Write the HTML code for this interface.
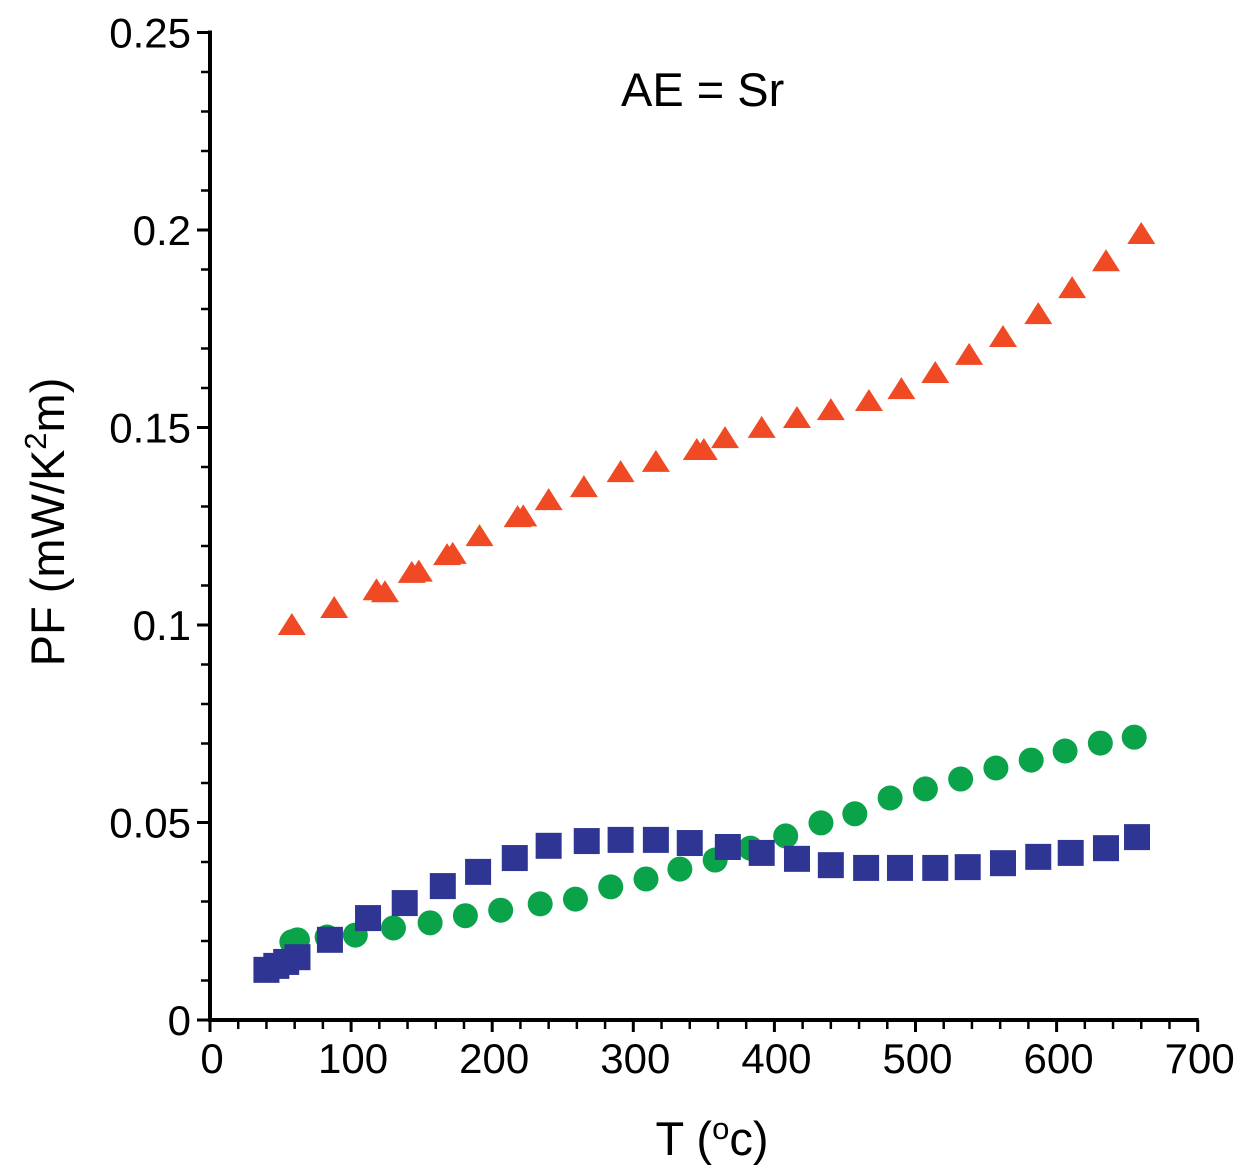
<!DOCTYPE html>
<html><head><meta charset="utf-8"><style>
body{margin:0;background:#fff;}
svg{display:block;font-family:"Liberation Sans",Arial,sans-serif;}
</style></head><body>
<svg id="chart" width="1236" height="1167" viewBox="0 0 1236 1167">
<g id="axes"></g>
<g id="marks"></g>
<text x="621" y="106" font-size="47">AE = Sr</text>
<text transform="translate(64,522) rotate(-90)" text-anchor="middle" font-size="47">PF (mW/K<tspan dy="-18" font-size="31">2</tspan><tspan dy="18">m)</tspan></text>
<text x="712" y="1155" text-anchor="middle" font-size="47">T (<tspan dy="-16" font-size="31">o</tspan><tspan dy="16">c)</tspan></text>
</svg>
<script>
const xTicks=[0,100,200,300,400,500,600,700];
const yTicks=[0,0.05,0.1,0.15,0.2,0.25];
const yTickLabels=["0","0.05","0.1","0.15","0.2","0.25"];
const redT=[58,88,118,124,143,148,168,172,191,218,222,240,265,291,316,345,350,365,391,416,440,467,490,514,538,562,587,611,635,660];
const redPF=[0.100,0.1043,0.1088,0.1083,0.1132,0.1135,0.1177,0.1180,0.1225,0.1273,0.1275,0.1316,0.1349,0.1387,0.1413,0.1443,0.1443,0.1473,0.1499,0.1524,0.1544,0.1567,0.1597,0.1638,0.1684,0.1729,0.1787,0.1853,0.1921,0.1990];
const greenT=[58,62,83,103,130,156,181,206,234,259,284,309,333,358,383,408,433,457,482,507,532,557,582,606,631,655];
const greenPF=[0.0198,0.0203,0.0210,0.0215,0.0233,0.0246,0.0264,0.0278,0.0294,0.0306,0.0337,0.0357,0.0382,0.0405,0.0435,0.0466,0.0499,0.0522,0.0562,0.0585,0.0610,0.0638,0.0658,0.0681,0.0701,0.0716];
const blueT=[40,47,54,62,85,112,138,165,190,216,240,267,291,316,340,367,391,416,440,465,489,514,537,562,587,610,635,657];
const bluePF=[0.0127,0.0137,0.0147,0.0159,0.0203,0.0258,0.0296,0.0339,0.0375,0.0410,0.0441,0.0453,0.0456,0.0456,0.0448,0.0438,0.0423,0.0408,0.0392,0.0385,0.0385,0.0385,0.0387,0.0397,0.0413,0.0423,0.0435,0.0463];
const NS="http://www.w3.org/2000/svg";
const X0=210,XS=1.411,Y0=1020,YS=3950;
function sx(t){return X0+t*XS;}
function sy(v){return Y0-v*YS;}
const axes=document.getElementById('axes');
const marks=document.getElementById('marks');
function mk(tag,attrs,parent){const e=document.createElementNS(NS,tag);for(const k in attrs)e.setAttribute(k,attrs[k]);parent.appendChild(e);return e;}
let e;
e=mk('line',{x1:sx(0),y1:sy(0.25)-2,x2:sx(0),y2:Y0+2,stroke:'#000','stroke-width':4},axes);


e=mk('line',{x1:sx(0)-2,y1:Y0,x2:sx(700)+1,y2:Y0,stroke:'#000','stroke-width':4},axes);


for(let t=0;t<=700;t+=20){
  const major=t%100===0;
  e=mk('line',{x1:sx(t),y1:Y0,x2:sx(t),y2:Y0+(major?12:9),stroke:'#000','stroke-width':major?3:2.5},axes);
  
  
}
for(let i=0;i<=25;i++){
  const v=i*0.01,major=i%5===0;
  e=mk('line',{x1:sx(0)-(major?13:9),y1:sy(v),x2:sx(0),y2:sy(v),stroke:'#000','stroke-width':major?3:2.5},axes);
  
  
}
xTicks.forEach(t=>{
  e=mk('text',{x:sx(t)+2,y:1073,'text-anchor':'middle','font-size':42},axes);
  e.textContent=String(t);
  
  
});
yTicks.forEach((v,i)=>{
  e=mk('text',{x:191,y:sy(v)+15,'text-anchor':'end','font-size':42},axes);
  e.textContent=yTickLabels[i];
  
  
});
greenT.forEach((t,i)=>{
  e=mk('circle',{cx:sx(t),cy:sy(greenPF[i]),r:12.5,fill:'#0aa34a'},marks);
  
  
});
blueT.forEach((t,i)=>{
  const x=sx(t),y=sy(bluePF[i]);
  e=mk('rect',{x:x-13,y:y-13,width:26,height:26,fill:'#2e3592'},marks);
  
  
});
redT.forEach((t,i)=>{
  const x=sx(t),y=sy(redPF[i]);
  e=mk('polygon',{points:`${x},${y-12} ${x+14},${y+10} ${x-14},${y+10}`,fill:'#f04a24'},marks);
  
  
});
</script>
</body></html>
